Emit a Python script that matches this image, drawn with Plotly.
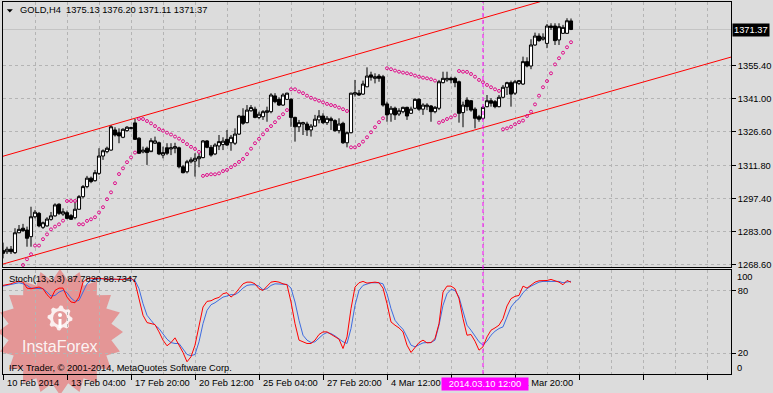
import math
import plotly.graph_objects as go

# ---------------- data ----------------
symbol = "GOLD,H4"
stoch_name = "Stoch(13,3,3)"
copyright_text = "IFX Trader, \u00a9 2001-2014, MetaQuotes Software Corp."

open_p = [1274.6, 1274.1, 1275.2, 1273.7, 1282.4, 1284.4, 1283.6, 1280.7, 1289.4, 1290.9,
          1284.8, 1285.4, 1288.3, 1289.8, 1294.9, 1290.6, 1291.2, 1289.9, 1289.0, 1292.7,
          1298.2, 1302.6, 1306.3, 1305.2, 1308.4, 1316.0, 1317.9, 1318.6, 1327.4, 1326.2,
          1324.2, 1327.1, 1328.0, 1330.5, 1323.8, 1317.8, 1319.4, 1317.9, 1321.6, 1321.8,
          1316.4, 1319.6, 1319.1, 1319.4, 1319.6, 1311.3, 1309.1, 1313.5, 1313.8, 1314.8,
          1315.3, 1322.6, 1319.8, 1316.9, 1320.4, 1321.0, 1323.3, 1321.8, 1321.6, 1325.6,
          1333.5, 1330.6, 1335.8, 1336.5, 1332.9, 1333.2, 1335.1, 1335.4, 1342.3, 1340.8,
          1338.3, 1340.8, 1340.8, 1332.9, 1328.8, 1330.0, 1330.0, 1327.4, 1329.1, 1331.8,
          1333.5, 1330.6, 1332.3, 1331.5, 1327.1, 1330.3, 1321.8, 1326.2, 1343.1, 1343.5,
          1343.1, 1346.3, 1351.5, 1350.0, 1351.0, 1350.7, 1338.8, 1334.4, 1336.9, 1334.4,
          1335.4, 1337.3, 1334.7, 1336.9, 1340.8, 1336.5, 1337.6, 1337.9, 1335.4, 1336.9,
          1348.1, 1349.3, 1350.0, 1350.0, 1348.5, 1335.0, 1340.5, 1340.2, 1336.5, 1333.2,
          1332.5, 1337.6, 1340.2, 1339.8, 1337.6, 1341.7, 1346.1, 1348.1, 1343.5, 1347.8,
          1347.5, 1357.3, 1355.4, 1364.6, 1368.5, 1367.1, 1365.3, 1372.9, 1372.9, 1366.8,
          1369.7, 1369.7, 1375.13]
high_p = [1278.1, 1276.3, 1276.6, 1284.4, 1285.8, 1286.3, 1285.1, 1293.8, 1292.4, 1291.5,
          1287.3, 1289.2, 1291.5, 1295.3, 1295.3, 1293.1, 1292.1, 1290.6, 1296.0, 1298.9,
          1303.3, 1307.3, 1307.0, 1309.9, 1319.4, 1318.9, 1320.1, 1329.6, 1328.6, 1328.1,
          1328.1, 1329.1, 1328.8, 1332.2, 1324.2, 1320.1, 1320.1, 1323.8, 1324.5, 1322.3,
          1320.1, 1321.6, 1321.6, 1321.8, 1320.1, 1312.1, 1314.3, 1315.4, 1317.2, 1317.2,
          1323.0, 1323.0, 1320.8, 1321.6, 1325.2, 1324.2, 1327.4, 1325.2, 1328.1, 1334.0,
          1336.9, 1338.3, 1338.3, 1337.6, 1335.4, 1336.1, 1337.6, 1343.5, 1343.5, 1341.7,
          1343.5, 1343.7, 1341.3, 1333.2, 1331.8, 1331.0, 1331.0, 1330.0, 1334.0, 1336.1,
          1334.7, 1333.5, 1333.2, 1332.1, 1332.5, 1331.0, 1326.6, 1343.7, 1349.3, 1344.9,
          1349.0, 1354.8, 1352.9, 1352.2, 1351.9, 1351.5, 1339.8, 1337.9, 1337.6, 1336.9,
          1337.6, 1337.6, 1337.6, 1341.3, 1341.3, 1339.1, 1339.1, 1338.3, 1337.9, 1349.3,
          1352.9, 1352.9, 1350.7, 1350.7, 1349.0, 1339.8, 1341.7, 1340.5, 1337.3, 1334.0,
          1337.9, 1342.7, 1341.3, 1340.5, 1342.7, 1347.1, 1348.5, 1349.0, 1349.3, 1349.3,
          1359.5, 1359.2, 1367.1, 1370.0, 1369.7, 1369.7, 1373.8, 1374.1, 1374.1, 1374.1,
          1373.4, 1376.3, 1376.20]
low_p = [1271.2, 1273.1, 1273.1, 1273.1, 1282.2, 1282.9, 1276.3, 1276.3, 1288.7, 1284.8,
         1284.1, 1285.1, 1287.7, 1289.4, 1290.2, 1289.8, 1288.3, 1288.0, 1288.3, 1292.4,
         1297.5, 1301.9, 1304.1, 1304.8, 1307.7, 1314.3, 1317.2, 1318.3, 1324.5, 1321.6,
         1323.8, 1326.6, 1327.7, 1323.0, 1316.9, 1317.2, 1312.1, 1318.6, 1321.3, 1316.4,
         1315.0, 1316.4, 1316.4, 1317.2, 1310.6, 1308.4, 1308.4, 1312.8, 1307.0, 1311.1,
         1315.0, 1319.4, 1315.7, 1316.4, 1318.6, 1318.6, 1320.4, 1318.3, 1320.8, 1325.2,
         1329.6, 1330.3, 1335.4, 1332.5, 1332.1, 1331.8, 1331.0, 1334.7, 1339.1, 1337.9,
         1337.9, 1340.5, 1328.8, 1322.3, 1326.6, 1325.2, 1324.8, 1324.5, 1328.8, 1330.3,
         1330.0, 1329.6, 1327.4, 1326.6, 1325.9, 1321.3, 1319.8, 1325.9, 1342.0, 1342.3,
         1342.7, 1346.1, 1349.0, 1347.8, 1348.5, 1337.6, 1331.0, 1331.0, 1331.8, 1333.5,
         1334.7, 1331.8, 1334.4, 1336.5, 1335.8, 1334.0, 1336.1, 1331.0, 1334.7, 1336.1,
         1347.8, 1348.5, 1347.8, 1346.1, 1330.6, 1328.6, 1335.8, 1335.4, 1328.1, 1331.0,
         1331.8, 1337.3, 1337.6, 1336.9, 1337.3, 1341.3, 1342.7, 1337.6, 1342.7, 1347.1,
         1347.1, 1354.8, 1354.0, 1364.2, 1366.0, 1366.5, 1363.2, 1371.2, 1364.6, 1364.6,
         1369.4, 1369.4, 1371.11]
close_p = [1273.4, 1275.2, 1274.1, 1282.4, 1283.9, 1283.3, 1280.0, 1289.4, 1291.4, 1285.4,
           1286.8, 1288.4, 1289.8, 1294.6, 1290.9, 1291.6, 1288.7, 1288.3, 1292.7, 1298.2,
           1302.6, 1306.3, 1304.8, 1308.7, 1316.0, 1318.3, 1319.4, 1328.8, 1325.2, 1324.8,
           1327.7, 1328.6, 1328.4, 1323.3, 1317.2, 1318.6, 1317.5, 1322.7, 1322.6, 1316.9,
           1317.5, 1317.2, 1319.6, 1320.1, 1311.3, 1308.7, 1313.5, 1314.3, 1315.0, 1315.7,
           1322.6, 1319.8, 1316.4, 1320.8, 1322.3, 1322.5, 1320.8, 1324.2, 1325.6, 1333.5,
           1330.3, 1336.1, 1337.2, 1332.9, 1334.3, 1335.4, 1335.8, 1342.7, 1339.8, 1338.3,
           1342.7, 1343.5, 1332.9, 1328.8, 1330.6, 1330.6, 1327.4, 1329.1, 1332.1, 1333.5,
           1330.6, 1332.5, 1331.5, 1327.1, 1330.0, 1321.8, 1326.2, 1343.5, 1343.7, 1342.7,
           1347.5, 1351.0, 1350.5, 1350.7, 1350.0, 1338.3, 1334.0, 1336.9, 1334.0, 1335.8,
           1337.3, 1333.5, 1336.5, 1340.8, 1336.5, 1338.3, 1338.3, 1335.4, 1337.3, 1348.5,
           1350.0, 1350.0, 1349.3, 1348.1, 1334.7, 1338.3, 1337.6, 1336.1, 1332.5, 1332.1,
           1337.3, 1340.2, 1339.1, 1337.6, 1341.7, 1346.1, 1348.1, 1343.1, 1348.5, 1349.0,
           1357.3, 1355.4, 1364.6, 1368.5, 1366.5, 1368.0, 1372.9, 1372.3, 1366.5, 1372.6,
           1372.3, 1375.2, 1371.37]

# Parabolic SAR (first bars lie below the visible range)
sar_p = [None, None, None, None, None,
         1268.3, 1270.8, 1273.0, 1276.8, 1276.8,
         1279.6, 1281.7, 1283.9, 1285.1, 1286.1, 1287.7, 1296.3, 1296.3, 1296.3, 1286.1,
         1286.1, 1287.6, 1288.3, 1289.2, 1291.3, 1293.6, 1297.1, 1300.1, 1304.1, 1308.1,
         1310.6, 1313.3, 1315.4, 1317.5, 1332.2, 1332.2, 1331.3, 1330.3, 1329.1, 1327.8,
         1327.1, 1326.2, 1325.4, 1324.5, 1323.6, 1322.5, 1321.2, 1320.0, 1319.1, 1317.8,
         1307.3, 1307.7, 1308.0, 1308.0, 1308.4, 1309.4, 1309.9, 1311.1, 1312.1, 1313.4,
         1314.7, 1316.8, 1319.2, 1321.6, 1323.5, 1325.5, 1327.4, 1329.1, 1330.8, 1332.8,
         1334.3, 1336.1, 1345.2, 1345.2, 1344.2, 1343.5, 1342.4, 1341.5, 1340.8, 1340.2,
         1339.5, 1338.8, 1338.3, 1337.9, 1337.2, 1336.5, 1335.7, 1319.8, 1319.8, 1320.8,
         1322.3, 1324.2, 1326.4, 1328.6, 1330.8, 1332.5, 1354.4, 1354.0, 1353.4, 1352.9,
         1352.5, 1352.2, 1351.8, 1351.2, 1350.7, 1350.3, 1350.0, 1349.6, 1349.0, 1330.6,
         1331.3, 1332.2, 1332.9, 1333.8, 1353.2, 1352.9, 1352.8, 1351.9, 1350.7, 1349.3,
         1348.3, 1347.1, 1346.1, 1345.2, 1344.5, 1327.7, 1328.1, 1328.8, 1329.9, 1330.8,
         1331.5, 1333.5, 1335.4, 1338.6, 1342.4, 1346.1, 1348.8, 1352.2, 1356.1, 1358.8,
         1361.2, 1363.6, 1365.8]

stoch_main = [84.8, 85.4, 86.3, 87.9, 88.6, 87.9, 82.2, 81.6, 82.2, 83.2,
              81.6, 75.9, 72.1, 80.0, 82.2, 82.2, 73.6, 68.9, 68.2, 73.6,
              87.9, 91.1, 91.7, 91.1, 91.7, 91.1, 90.5, 91.1, 90.5, 90.5,
              90.5, 91.1, 91.7, 87.9, 72.1, 56.2, 49.2, 48.2, 47.3, 40.3,
              32.4, 27.0, 30.1, 34.6, 27.6, 20.6, 11.7, 16.5, 27.6, 46.7,
              64.1, 69.5, 70.1, 72.1, 73.3, 76.8, 77.8, 73.6, 76.8, 81.6,
              86.3, 87.9, 87.9, 86.3, 81.6, 80.0, 84.1, 87.9, 88.6, 87.9,
              86.3, 85.4, 68.9, 48.2, 32.4, 30.8, 29.2, 29.2, 32.4, 37.8,
              40.3, 40.3, 38.1, 35.5, 33.3, 24.4, 35.5, 62.5, 83.2, 87.3,
              88.6, 87.0, 87.3, 87.9, 87.3, 82.2, 67.3, 49.8, 46.7, 44.1,
              40.3, 27.6, 20.6, 25.1, 30.1, 32.4, 29.8, 30.1, 33.9, 48.2,
              78.4, 84.1, 84.1, 81.6, 72.1, 53.0, 37.1, 37.8, 31.4, 22.8,
              26.0, 35.5, 41.9, 44.1, 46.7, 53.0, 65.1, 72.1, 74.3, 75.2,
              84.1, 82.2, 85.4, 87.9, 89.2, 89.2, 89.5, 90.5, 89.5, 87.9,
              85.4, 89.5, 87.7820]
stoch_signal = [84.1, 84.8, 85.4, 86.3, 87.3, 86.3, 84.8, 82.2, 82.2, 81.6,
                81.6, 78.4, 74.6, 75.2, 78.4, 80.0, 77.8, 72.7, 69.5, 70.5,
                78.4, 86.3, 89.5, 90.5, 91.1, 91.1, 90.5, 90.5, 90.5, 90.5,
                90.5, 90.5, 91.1, 89.5, 81.6, 67.3, 56.2, 51.4, 46.7, 43.5,
                38.7, 33.3, 30.1, 29.2, 29.2, 24.4, 18.7, 17.5, 18.7, 30.8,
                48.2, 60.9, 66.3, 68.2, 70.5, 73.6, 74.6, 75.9, 75.9, 78.4,
                82.2, 84.8, 85.4, 85.4, 84.1, 80.6, 81.6, 84.8, 86.3, 86.3,
                86.3, 85.7, 82.2, 68.9, 51.4, 37.1, 32.4, 30.1, 30.8, 33.9,
                37.8, 39.7, 38.7, 36.5, 33.3, 30.8, 29.2, 43.5, 65.7, 80.0,
                84.8, 86.3, 87.3, 87.3, 87.3, 86.3, 76.8, 62.5, 51.4, 46.7,
                42.8, 35.5, 27.6, 26.0, 28.2, 29.8, 30.1, 30.1, 32.4, 46.7,
                65.7, 76.8, 80.9, 80.0, 73.6, 59.4, 46.7, 41.9, 36.5, 30.8,
                27.6, 31.4, 37.1, 40.9, 43.5, 45.1, 54.6, 64.1, 68.9, 72.1,
                77.8, 81.6, 84.1, 86.3, 87.9, 88.6, 88.6, 89.2, 89.2, 88.6,
                87.3, 87.9, 88.7347]

price_ticks = [1268.60, 1283.00, 1297.40, 1311.80, 1326.60, 1341.00, 1355.40]
stoch_ticks = [20, 80]
stoch_edge_labels = [100, 0]
# the label of bar 112 ("7 Mar 04:00") is fully hidden under the cursor label in the reference
date_labels = ["10 Feb 2014", "13 Feb 04:00", "17 Feb 20:00", "20 Feb 12:00",
               "25 Feb 04:00", "27 Feb 20:00", "4 Mar 12:00", "11 Mar 20:00"]
date_bars = [0, 16, 32, 48, 64, 80, 96, 128]
cursor_bar = 120
cursor_label = "2014.03.10 12:00"
channel_bars = [0, 182]
channel_upper = [1315.9, 1407.6]
channel_lower = [1268.7, 1359.3]

bars = list(range(len(close_p)))

# ---------------- geometry / style ----------------
W, H = 773, 393
ML, MR, MT, MB = 3, 42, 2, 19
PW, PH = W - ML - MR, H - MT - MB
FONT = "Liberation Sans, Arial, sans-serif"
FS = 9.3
GRID = "#b4b4b4"
GDASH = "3px,3px"


def pxx(x):
    return (x - ML) / PW


def pxy(y):
    return (H - MB - y) / PH


main_dom = [pxy(267), 1.0]
stoch_dom = [0.0, pxy(269.5)]
XR = [0, 182]
YR = [1267.42, 1383.41]

fig = go.Figure()

# channel lines
fig.add_trace(go.Scatter(x=channel_bars, y=channel_upper, mode="lines",
                         line=dict(color="#ff0000", width=1), xaxis="x", yaxis="y"))
fig.add_trace(go.Scatter(x=channel_bars, y=channel_lower, mode="lines",
                         line=dict(color="#ff0000", width=1), xaxis="x", yaxis="y"))

# candles
fig.add_trace(go.Candlestick(
    x=bars, open=open_p, high=high_p, low=low_p, close=close_p,
    increasing=dict(line=dict(color="black", width=1), fillcolor="white"),
    decreasing=dict(line=dict(color="black", width=1), fillcolor="black"),
    whiskerwidth=0, xaxis="x", yaxis="y"))

# parabolic SAR
fig.add_trace(go.Scatter(x=bars, y=sar_p, mode="markers",
                         marker=dict(symbol="circle-open", size=3, color="#e0108c",
                                     line=dict(width=1, color="#e0108c")),
                         xaxis="x", yaxis="y"))

# stochastic
fig.add_trace(go.Scatter(x=bars, y=stoch_signal, mode="lines",
                         line=dict(color="#3d6be0", width=1), xaxis="x2", yaxis="y2"))
fig.add_trace(go.Scatter(x=bars, y=stoch_main, mode="lines",
                         line=dict(color="#ff0000", width=1), xaxis="x2", yaxis="y2"))

axis_common = dict(showline=True, mirror=True, linecolor="black", linewidth=1,
                   zeroline=False, fixedrange=True)

fig.update_layout(
    width=W, height=H,
    margin=dict(l=ML, r=MR, t=MT, b=MB, pad=0),
    paper_bgcolor="#dcdcdc", plot_bgcolor="rgba(0,0,0,0)",
    showlegend=False, hovermode=False,
    font=dict(family=FONT, size=FS, color="black"),
    boxgap=0.12, boxgroupgap=0.12,
    xaxis=dict(domain=[0, 1], anchor="y", range=XR, tickvals=list(range(0, 183, 16)),
               showticklabels=False, ticks="", showgrid=True, gridcolor=GRID, griddash=GDASH,
               gridwidth=1,
               minor=dict(dtick=8, tick0=0, showgrid=True, gridcolor=GRID, griddash=GDASH, ticks=""),
               rangeslider=dict(visible=False), **axis_common),
    yaxis=dict(domain=main_dom, anchor="x", side="right", range=YR,
               tickvals=price_ticks, ticktext=[f"{v:.2f}" for v in price_ticks],
               ticks="outside", ticklen=4, tickcolor="black",
               tickfont=dict(size=FS, family=FONT, color="black"),
               showgrid=True, gridcolor=GRID, griddash=GDASH, **axis_common),
    xaxis2=dict(domain=[0, 1], anchor="y2", range=XR, tickvals=list(range(0, 183, 16)),
                showticklabels=False, ticks="outside", ticklen=5, tickcolor="black",
                showgrid=True, gridcolor=GRID, griddash=GDASH,
                minor=dict(dtick=8, tick0=0, showgrid=True, gridcolor=GRID, griddash=GDASH, ticks=""),
                **axis_common),
    yaxis2=dict(domain=stoch_dom, anchor="x2", side="right", range=[0, 100],
                tickvals=stoch_ticks, ticktext=[str(v) for v in stoch_ticks],
                ticks="outside", ticklen=4, tickcolor="black",
                tickfont=dict(size=FS, family=FONT, color="black"),
                showgrid=True, gridcolor=GRID, griddash=GDASH, **axis_common),
)

shapes = []

# InstaForex watermark star
cx, cy, R1, R2, N = 60, 332, 63, 52, 20
pts = []
for k in range(2 * N):
    a = -math.pi / 2 + k * math.pi / N
    r = R1 if k % 2 == 0 else R2
    pts.append((pxx(cx + r * math.cos(a)), pxy(cy + r * math.sin(a))))
path = "M " + " L ".join(f"{x:.5f},{y:.5f}" for x, y in pts) + " Z"
shapes.append(dict(type="path", path=path, xref="paper", yref="paper",
                   fillcolor="rgba(236,80,80,0.5)", line=dict(width=0), layer="below"))

# gear icon
gx, gy = 60, 318
gpts = []
for k in range(32):
    a = 2 * math.pi * k / 32
    r = 12.5 if k % 4 in (0, 1) else 10
    gpts.append((pxx(gx + r * math.cos(a)), pxy(gy + r * math.sin(a))))
gpath = "M " + " L ".join(f"{x:.5f},{y:.5f}" for x, y in gpts) + " Z"
shapes.append(dict(type="path", path=gpath, xref="paper", yref="paper",
                   fillcolor="rgba(255,255,255,0.85)", line=dict(width=0), layer="below"))
shapes.append(dict(type="circle", xref="paper", yref="paper",
                   x0=pxx(gx - 7), x1=pxx(gx + 7), y0=pxy(gy + 7), y1=pxy(gy - 7),
                   fillcolor="#e59c9c", line=dict(width=0), layer="below"))
shapes.append(dict(type="circle", xref="paper", yref="paper",
                   x0=pxx(gx - 2), x1=pxx(gx + 2), y0=pxy(gy - 1), y1=pxy(gy - 5),
                   fillcolor="white", line=dict(width=0), layer="below"))
shapes.append(dict(type="rect", xref="paper", yref="paper",
                   x0=pxx(gx - 1.5), x1=pxx(gx + 1.5), y0=pxy(gy + 10), y1=pxy(gy + 1),
                   fillcolor="white", line=dict(width=0), layer="below"))

# current price line
shapes.append(dict(type="line", xref="paper", yref="y", x0=0, x1=1,
                   y0=close_p[-1], y1=close_p[-1], line=dict(color="#c4c4c4", width=1),
                   layer="below"))

# cursor vertical line
shapes.append(dict(type="line", xref="x", yref="paper", x0=cursor_bar, x1=cursor_bar,
                   y0=0, y1=1, line=dict(color="#ff00ff", width=1, dash="4px,3px"),
                   layer="above"))

# header triangle
tri = [(6.8, 9.3), (12.8, 9.3), (9.8, 12.6)]
tpath = "M " + " L ".join(f"{pxx(x):.5f},{pxy(y):.5f}" for x, y in tri) + " Z"
shapes.append(dict(type="path", path=tpath, xref="paper", yref="paper",
                   fillcolor="black", line=dict(width=0)))

fig.update_layout(shapes=shapes)

ann = []
header = (f"{symbol}\u00a0\u00a0{open_p[-1]:.2f} {high_p[-1]:.2f} "
          f"{low_p[-1]:.2f} {close_p[-1]:.2f}")
ann.append(dict(text=header, xref="paper", yref="paper", x=pxx(18), y=pxy(10.5),
                xanchor="left", yanchor="middle", showarrow=False,
                font=dict(size=FS, family=FONT, color="black")))
ann.append(dict(text=f"{stoch_name} {stoch_main[-1]:.4f} {stoch_signal[-1]:.4f}",
                xref="paper", yref="paper", x=pxx(7), y=pxy(279),
                xanchor="left", yanchor="middle", showarrow=False,
                font=dict(size=FS, family=FONT, color="black")))
ann.append(dict(text="InstaForex", xref="paper", yref="paper", x=pxx(60), y=pxy(346),
                xanchor="center", yanchor="middle", showarrow=False,
                font=dict(size=16, family=FONT, color="rgba(255,255,255,0.9)")))
ann.append(dict(text=copyright_text, xref="paper", yref="paper", x=pxx(7), y=pxy(368),
                xanchor="left", yanchor="middle", showarrow=False,
                font=dict(size=FS, family=FONT, color="black")))
for b, lab in zip(date_bars, date_labels):
    ann.append(dict(text=lab, xref="x2", yref="paper", x=b, y=pxy(383), xshift=2,
                    xanchor="left", yanchor="middle", showarrow=False,
                    font=dict(size=FS, family=FONT, color="black")))
ann.append(dict(text=cursor_label, xref="x2", yref="paper", x=cursor_bar, y=pxy(384),
                xanchor="center", yanchor="middle", showarrow=False, bgcolor="#ff00ff",
                width=86, height=12, borderpad=0, xshift=2,
                font=dict(size=FS, family=FONT, color="white")))
for v, ypix in zip(stoch_edge_labels, [277, 368]):
    ann.append(dict(text=str(v), xref="paper", yref="paper", x=1, y=pxy(ypix), xshift=4,
                    xanchor="left", yanchor="middle", showarrow=False,
                    font=dict(size=FS, family=FONT, color="black")))
ann.append(dict(text=f"{close_p[-1]:.2f}", xref="paper", yref="y", x=1, y=close_p[-1],
                xshift=1, xanchor="left", yanchor="middle", showarrow=False,
                bgcolor="black", borderpad=1,
                font=dict(size=FS, family=FONT, color="white")))
fig.update_layout(annotations=ann)

fig.write_html("out.html",
               config={"displayModeBar": False, "staticPlot": True},
               post_script="document.body.style.margin='0';"
                           "document.body.style.padding='0';"
                           "document.body.style.overflow='hidden';")
